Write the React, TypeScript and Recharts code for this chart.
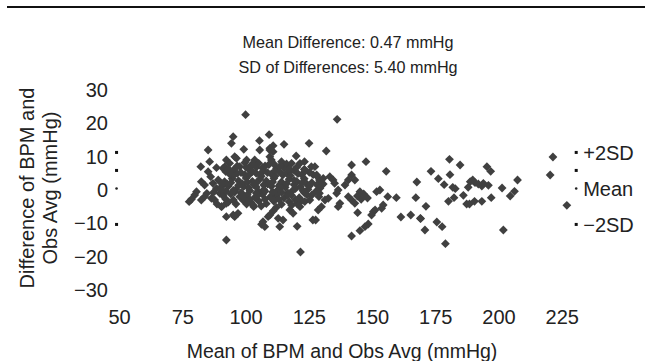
import React from 'react';
import { ScatterChart, Scatter, XAxis, YAxis } from 'recharts';

type Pt = [number, number];

const FONT = '"Liberation Sans", Arial, Helvetica, sans-serif';
const TEXT = '#222';
const POINT = '#404040';

const xTicks = [50, 75, 100, 125, 150, 175, 200, 225];
const yTicks = [-30, -20, -10, 0, 10, 20, 30];

const titleLines = ['Mean Difference: 0.47 mmHg', 'SD of Differences: 5.40 mmHg'];
const xLabel = 'Mean of BPM and Obs Avg (mmHg)';
const yLabelLines = ['Difference of BPM and', 'Obs Avg (mmHg)'];

// limits: +2SD, +1SD, mean, -2SD
const limitLevels = [11.27, 5.87, 0.47, -10.33];
const limitNames = ['+2SD', '', 'Mean', '\u22122SD'];
const limitKinds = ['sq', 'sq', 'dot', 'sq'];
const leftMarkerX = 48.8;
const rightMarkerX = 230.5;

const leftCluster: Pt[] = [
  [85, 12], [85.6, 8.5], [82.1, 7], [88.3, 6.7], [90.9, 6.5], [85, 5.5], [86, 4], [82.3, 2.5],
  [83.6, 1.5], [86.9, 2], [88.3, 0.5], [90.3, 1], [89.6, -1], [80.4, -0.5], [79.7, -1.5],
  [78.4, -2.8], [77.5, -3.5], [83.6, -2], [82.3, -3], [86.3, -2.5], [87.6, -3], [90.3, -5],
  [88.5, -4.2], [84.5, -1], [87, -0.8], [92.2, 9], [91.6, 7],
];

const upperScatter: Pt[] = [
  [99.8, 22.6], [94.9, 16], [94.2, 14], [109.1, 16.6], [105.3, 14.8], [115, 13.7], [124.9, 14],
  [110.7, 13.3], [109.4, 12], [105.4, 12], [99.1, 12.2], [119.8, 10.2], [123.1, 8.5], [125.8, 7],
  [114, 8.5], [116, 7.8], [109.4, 10], [110, 9], [103.4, 9], [102.8, 8], [95.5, 10], [93.5, 8],
  [96.2, 9.5], [100.2, 9], [121.3, 8], [104, 6.8], [107.5, 7.2], [112, 6.5], [120, 6.8],
  [97.5, 7], [99.5, 8.2], [110.7, 11.5], [109.4, 12.5],
];

const coreCluster: Pt[] = [
  [92, 5.5], [95, 6], [98, 5.2], [101, 6.3], [104, 5], [107, 5.8], [110, 4.8], [113, 5.6],
  [116, 5], [119, 5.9], [122, 4.6], [125, 5.3], [128, 4.2],
  [89, 3], [91.5, 2.5], [94.5, 3.4], [97, 2.8], [100, 3.6], [102.5, 2.6], [105.5, 3.3], [108, 2.7],
  [111, 3.5], [114, 2.4], [117, 3.2], [120, 2.6], [123, 3.4], [126, 2.2], [129, 3],
  [90, 0.4], [93, 1.2], [96, 0.2], [99, 1], [101.5, -0.2], [104, 0.9], [107, 0.1], [110, 1.1],
  [112.5, 0], [115.5, 0.8], [118.5, -0.1], [121.5, 1], [124.5, 0.2], [127.5, -0.5],
  [91, -1.8], [94, -1.2], [97.5, -2], [100.5, -1.4], [103.5, -2.2], [106.5, -1.3], [109.5, -2.1],
  [112, -1.5], [115, -2.4], [118, -1.6], [121, -2.3], [124, -1.4],
  [93, -3.6], [96, -4.2], [99, -3.2], [102, -3.8], [105, -3.3], [108, -4.1], [111, -3.4],
  [114, -4.3], [117, -3.5], [120, -4],
  [95, 4.3], [101, 4.4], [106, 4.1], [111.5, 4.2], [117.5, 4.3], [92.5, 1.8], [98.5, 1.9],
  [103, 1.6], [108.5, 1.8], [113.5, 1.7], [119, 1.6], [124, 1.8], [95.5, -0.6], [105, -0.5],
  [114, -0.7], [123, -0.8], [99.5, -2.8], [110.5, -2.7], [119.5, -2.9], [96.5, 7.2], [102, 7.4],
  [109, 7.6], [115, 6.6],
];

const coreFill: Pt[] = [
  [93.5, 4.8], [96.5, 5], [99.5, 4.6], [102.5, 5.5], [105.5, 4.7], [108.5, 5.2], [111.5, 5.8],
  [114.5, 4.5], [117.5, 5.6], [120.5, 4.9], [123.5, 5.8], [126.5, 4.6],
  [90.5, 1.9], [94, 2.2], [97, 1.4], [100.5, 2.3], [104, 2.1], [107, 1.5], [110.5, 2.4], [113, 1.2],
  [116, 1.9], [119, 2.9], [122, 2], [125, 1.2], [128, 1.6], [130.5, 1.8],
  [92, -0.4], [95, -0.1], [98, -0.8], [101, 0.6], [104, -0.9], [107.5, -0.4], [110.5, -0.6],
  [113.5, 0.5], [116.5, -0.9], [119.5, 0.4], [122.5, -0.2], [126, -1.5], [129, -1],
  [92, -2.8], [95, -3], [98.5, -1.2], [101.5, -2.9], [104.5, -1.7], [107.5, -2.8], [113, -2.8],
  [116.5, -1.5], [122, -3.2], [118, -4.6], [103, -5], [106, -4.8], [112, -5.2],
  [105, 8], [111, 7.8], [118, 8], [93, 6.3], [100, 6.8], [106.5, 6.6], [113.5, 7.2], [117, 6.4],
  [123, 6.2],
];

const lowerScatter: Pt[] = [
  [92.2, -8], [94.9, -7.5], [96.8, -7], [95.5, -8], [100.2, -4.2], [102.8, -4.5], [106.1, -10.3],
  [107.4, -11], [106.7, -9.5], [108.7, -8], [113.3, -11], [112.7, -8.5], [114.6, -9], [120.2, -10.9],
  [126.4, -9], [121.3, -5], [123.2, -3.5], [125.2, -3], [117.3, -6], [118.6, -7], [92.2, -15],
  [121.5, -18.6], [110.7, -6.3], [109.4, -7.5], [90.3, -5], [92.2, -4],
];

const tailCluster: Pt[] = [
  [136, 21.2], [131.7, 11.7], [141.7, 7.5], [147.4, 8.5], [155.4, 5.6], [167.5, 2.4], [167.1, -2.3],
  [159.4, -2.3], [156, -2], [161.2, -8.1], [165.1, -7.5], [168.9, -8.5], [141.7, -13.8], [145, -12.2],
  [147, -11], [148.3, -10.2], [144.1, -6.8], [149.6, -7.5], [150.3, -6.5], [151, -6], [154.2, -4.5],
  [153.6, -5.5], [152.9, 0], [151.6, -0.5], [145, -0.5], [146.5, -1.2], [148, -2.4], [144, -1.8],
  [145.5, -2.8], [140.4, -2], [141.7, -3], [143, -4], [136.4, -5], [137.1, -4], [139.1, 1.5],
  [140.4, 3], [141.7, 4.5], [143, 3], [133.1, 4], [134.4, 3], [135, 2], [136.4, 0], [135.8, -1],
  [130.5, 3.5], [129.2, 0.5], [128.8, -2], [131.2, -3], [129.8, -5], [128.5, -6], [132.5, -2.5],
  [127.5, -9], [127.2, 7], [127.9, 4.5],
];

const highRange: Pt[] = [
  [180.4, 9.2], [184.6, 7.5], [173.1, 5.6], [180.6, 4.6], [176, 3.4], [178.3, 1.6], [181.7, 0.8],
  [182.7, 0.4], [195.2, 7], [196.7, 5.6], [188.6, 2.5], [189.6, 3], [190.5, 2.2], [191.8, 1.8],
  [193.2, 1.2], [193.8, 2], [187.8, 0.8], [195.8, 1.4], [201.2, 0.6], [207.3, 3], [206.1, -0.4],
  [204.4, -1.8], [185.9, -1.6], [182.2, -2.3], [180, -3.4], [187.2, -4.2], [188.3, -4.2],
  [190.3, -3.4], [193.2, -3.4], [196.9, -2.3], [171.1, -4.9], [169, -8.6], [175.4, -9.6],
  [177.5, -11], [170.7, -12], [178.8, -16.1], [201.7, -12], [221.3, 9.9], [220.2, 4.5], [226.8, -4.6],
];

const allPoints = [
  ...leftCluster, ...upperScatter, ...coreCluster, ...coreFill, ...lowerScatter, ...tailCluster, ...highRange,
].map(([x, y]) => ({ x, y }));

const leftMarkers = limitLevels.map((y, i) => ({ x: leftMarkerX, y, kind: limitKinds[i], name: '' }));
const rightMarkers = limitLevels.map((y, i) => ({ x: rightMarkerX, y, kind: limitKinds[i], name: limitNames[i] }));

const Diamond = (props: any) => {
  const { cx, cy } = props;
  if (cx == null || cy == null) return null;
  const r = 4.4;
  return (
    <polygon
      points={`${cx},${cy - r} ${cx + r},${cy} ${cx},${cy + r} ${cx - r},${cy}`}
      fill={POINT}
    />
  );
};

const Marker = (props: any) => {
  const { cx, cy, payload } = props;
  if (cx == null || cy == null) return null;
  const mark =
    payload.kind === 'dot' ? (
      <circle cx={cx} cy={cy} r={1.3} fill="#222" />
    ) : (
      <rect x={cx - 1.5} y={cy - 1.5} width={3} height={3} fill="#111" />
    );
  return (
    <g>
      {mark}
      {payload.name ? (
        <text x={cx + 7} y={cy + 7.2} fontSize={20} fontFamily={FONT} fill={TEXT}>
          {payload.name}
        </text>
      ) : null}
    </g>
  );
};

const fmt = (v: number) => String(v).replace('-', '\u2212');

export default function App() {
  return (
    <div style={{ position: 'absolute', left: 0, top: 0, width: 645, height: 361, background: '#fff' }}>
      <div style={{ position: 'absolute', left: 7, top: 6, width: 638, height: 2, background: '#111' }} />
      <ScatterChart
        width={645}
        height={361}
        margin={{ top: 90, right: 65, bottom: 0, left: 0 }}
        style={{ overflow: 'visible' }}
      >
        <XAxis
          type="number"
          dataKey="x"
          domain={[47, 232]}
          ticks={xTicks}
          axisLine={false}
          tickLine={false}
          tickSize={0}
          tickMargin={20}
          height={71}
          tick={{ fontSize: 20, fill: TEXT, fontFamily: FONT }}
        />
        <YAxis
          type="number"
          dataKey="y"
          domain={[-30, 30]}
          ticks={yTicks}
          axisLine={false}
          tickLine={false}
          tickSize={0}
          tickMargin={4}
          width={112}
          tickFormatter={fmt}
          tick={{ fontSize: 20, fill: TEXT, fontFamily: FONT }}
        />
        <Scatter data={allPoints} shape={Diamond} isAnimationActive={false} />
        <Scatter data={leftMarkers} shape={Marker} isAnimationActive={false} />
        <Scatter data={rightMarkers} shape={Marker} isAnimationActive={false} />
      </ScatterChart>
      <svg
        width={645}
        height={361}
        style={{ position: 'absolute', left: 0, top: 0, pointerEvents: 'none' }}
      >
        <g fontFamily={FONT} fill={TEXT} textAnchor="middle">
          <text x={348} y={48} fontSize={16.2}>{titleLines[0]}</text>
          <text x={348} y={73} fontSize={16.2}>{titleLines[1]}</text>
          <text x={342} y={358} fontSize={19.5}>{xLabel}</text>
          <text transform="translate(33.5,188) rotate(-90)" fontSize={20}>{yLabelLines[0]}</text>
          <text transform="translate(57,188) rotate(-90)" fontSize={20}>{yLabelLines[1]}</text>
        </g>
      </svg>
    </div>
  );
}
